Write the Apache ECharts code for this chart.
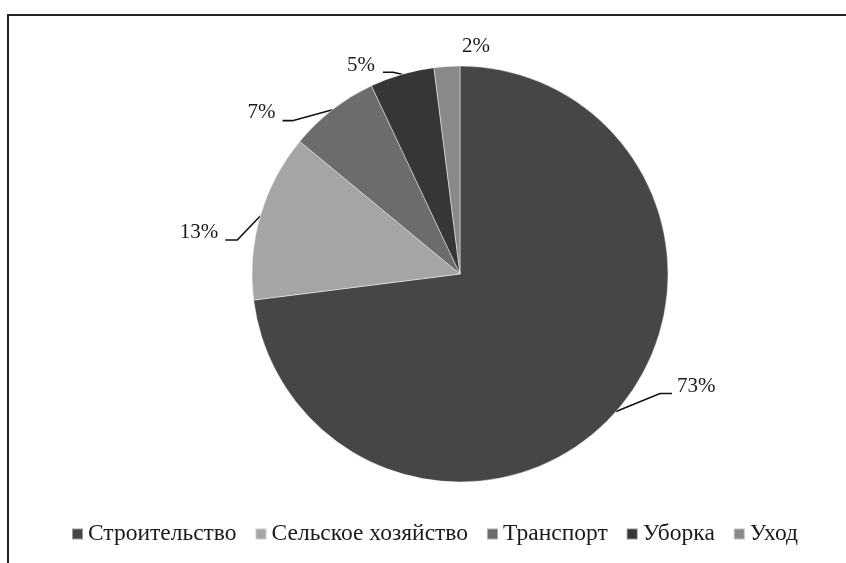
<!DOCTYPE html>
<html>
<head>
<meta charset="utf-8">
<script src="https://cdn.jsdelivr.net/npm/echarts@6/dist/echarts.min.js"></script>
<style>
html,body{margin:0;padding:0;background:#fff;}
#chart{width:846px;height:563px;}
</style>
</head>
<body>
<div id="chart"></div>
<script>
// Data
var categories = ['Строительство', 'Сельское хозяйство', 'Транспорт', 'Уборка', 'Уход'];
var shares = [73, 13, 7, 5, 2];

// Styles (kept separate from data)
var sliceColors = ['#464646', '#a5a5a5', '#6c6c6c', '#363636', '#898989'];
// label guide offsets relative to the slice edge point: [bendDx, bendDy, tailDx, textDx, textDy, align, showLine]
var guides = [
  [44, -18, 56, 61, -25, 'left', true],
  [-23, 24, -35, -42, 17, 'right', true],
  [-40, 11, -50, -57, 3, 'right', true],
  [-9, -2, -19, -27, -9, 'right', true],
  [0, 0, 0, 15, -20, 'left', false]
];

var FONT = 'Liberation Serif';

var data = categories.map(function (c, i) {
  var item = { name: c, value: shares[i], itemStyle: { color: sliceColors[i] } };
  if (!guides[i][6]) item.labelLine = { lineStyle: { opacity: 0 } };
  return item;
});

var chart = echarts.init(document.getElementById('chart'), null, { renderer: 'canvas' });
chart.setOption({
  backgroundColor: '#ffffff',
  animation: false,
  graphic: [{
    type: 'rect',
    shape: { x: 8, y: 15, width: 900, height: 600 },
    style: { fill: 'none', stroke: '#222', lineWidth: 2 },
    silent: true
  }],
  legend: {
    data: categories,
    left: 66,
    top: 517,
    icon: 'rect',
    itemWidth: 11,
    itemHeight: 11,
    itemGap: 18,
    textStyle: { fontFamily: FONT, fontSize: 23.5, color: '#1a1a1a' }
  },
  series: [{
    type: 'pie',
    center: [460, 274],
    radius: 208,
    startAngle: 90,
    clockwise: true,
    data: data,
    itemStyle: { borderColor: 'rgba(255,255,255,0.45)', borderWidth: 1 },
    label: {
      show: true,
      position: 'outside',
      formatter: function (p) { return Math.round(p.percent) + '%'; },
      fontFamily: FONT,
      fontSize: 21,
      color: '#1a1a1a'
    },
    labelLine: {
      show: true,
      length: 20,
      length2: 10,
      lineStyle: { color: '#111', width: 1.6 }
    },
    labelLayout: function (params) {
      var g = guides[params.dataIndex];
      var pts = params.labelLinePoints;
      if (!pts) return {};
      var ex = pts[0][0], ey = pts[0][1];
      return {
        x: ex + g[3],
        y: ey + g[4],
        align: g[5],
        verticalAlign: 'middle',
        labelLinePoints: [[ex, ey], [ex + g[0], ey + g[1]], [ex + g[2], ey + g[1]]]
      };
    }
  }]
});
</script>
</body>
</html>
